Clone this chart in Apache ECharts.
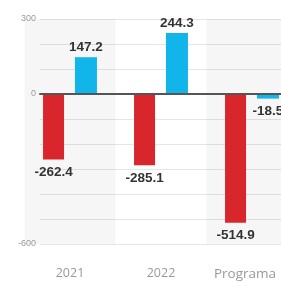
<!DOCTYPE html>
<html>
<head>
<meta charset="utf-8">
<script src="https://cdn.jsdelivr.net/npm/echarts@6/dist/echarts.min.js"></script>
<style>html,body{margin:0;padding:0;background:#fff}#c{width:281px;height:286px}</style>
</head>
<body>
<div id="c"></div>
<script>
var categories = ['2021', '2022', 'Programa'];
var redValues = [-262.4, -285.1, -514.9];
var blueValues = [147.2, 244.3, -18.5];
var yTickLabels = [300, 0, -600];

function items(vals) {
  return vals.map(function (v) {
    return { value: v, label: { position: v < 0 ? 'bottom' : 'top', distance: v < 0 ? 6 : 3 } };
  });
}
var labelStyle = {
  show: true, color: '#333', fontWeight: 'bold', fontSize: 13.5,
  fontFamily: 'Liberation Sans, Arial, sans-serif',
  formatter: function (p) { return p.value.toFixed(1); }
};

var chart = echarts.init(document.getElementById('c'));
chart.setOption({
  animation: false,
  grid: [
    { left: 40, width: 257, top: 19, bottom: 42, outerBoundsMode: 'none', containLabel: false },
    { left: 24.5, width: 273, top: 19, bottom: 42, outerBoundsMode: 'none', containLabel: false }
  ],
  xAxis: [
    { gridIndex: 0, type: 'value', min: 0, max: 1, axisLabel: { show: false }, splitLine: { show: false }, axisTick: { show: false },
      axisLine: { show: true, onZero: true, lineStyle: { color: '#555', width: 2 } }, z: 5 },
    { gridIndex: 1, type: 'category', data: categories, axisLine: { show: false }, axisTick: { show: false },
      splitArea: { show: true, interval: 0, areaStyle: { color: ['rgba(0,0,0,0.035)', 'rgba(255,255,255,0)'] } },
      axisLabel: { interval: 0, hideOverlap: false, color: '#999', fontSize: 12.5, margin: 23, fontFamily: 'Open Sans, sans-serif',
        formatter: function (v, i) { return i === categories.length - 1 ? '{last|' + v + '}' : v; },
        rich: { last: { color: '#999', fontSize: 13.5, fontFamily: 'Open Sans, sans-serif', padding: [0, 14, 0, 0] } } } }
  ],
  yAxis: [
    { gridIndex: 0, type: 'value', min: -600, max: 300, interval: 100,
      axisLine: { show: false }, axisTick: { show: false },
      splitLine: { lineStyle: { color: '#e6e6e6', width: 1 } },
      axisLabel: { color: '#9a9a9a', fontSize: 9, margin: 4, fontFamily: 'Liberation Sans, Arial, sans-serif',
        formatter: function (v) { return yTickLabels.indexOf(v) >= 0 ? String(v) : ''; } } },
    { gridIndex: 1, type: 'value', min: -600, max: 300, interval: 100, show: false, splitLine: { show: false } }
  ],
  series: [
    { type: 'bar', xAxisIndex: 1, yAxisIndex: 1, data: items(redValues), barWidth: 21, barGap: '52%',
      itemStyle: { color: '#d9262c' }, label: labelStyle },
    { type: 'bar', xAxisIndex: 1, yAxisIndex: 1, data: items(blueValues), barWidth: 22,
      itemStyle: { color: '#12b5ea' }, label: labelStyle }
  ]
});
</script>
</body>
</html>
